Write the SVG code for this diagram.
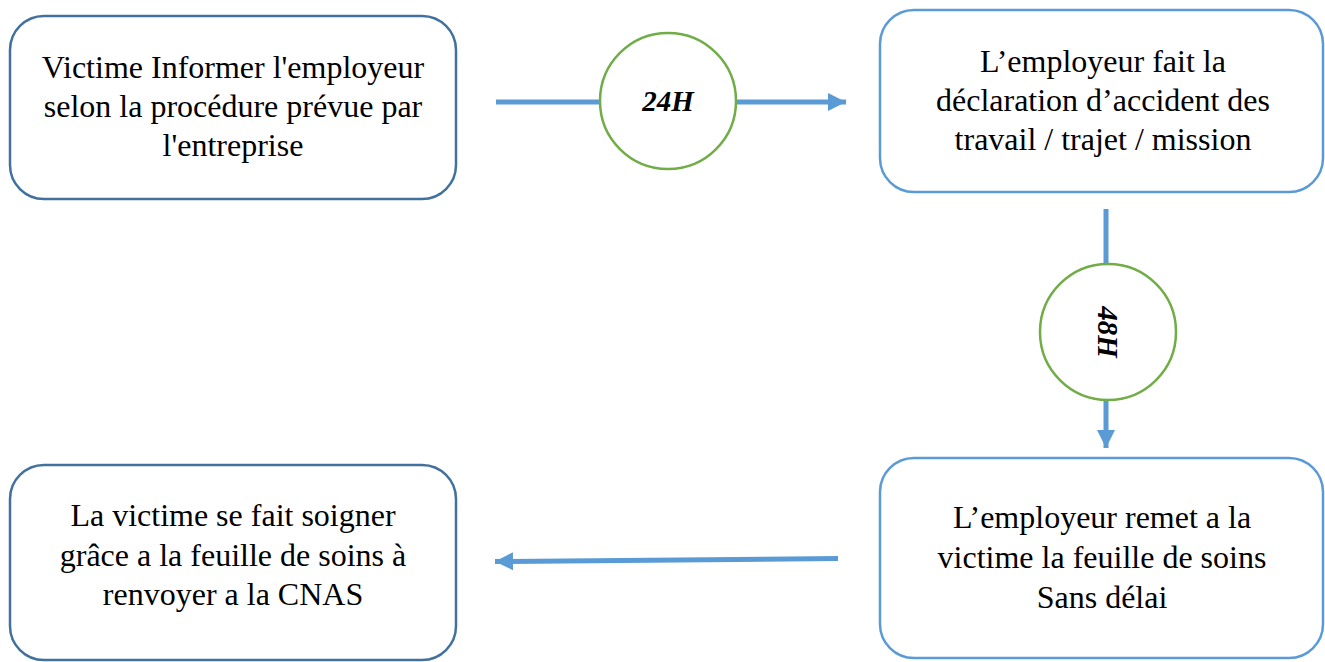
<svg xmlns="http://www.w3.org/2000/svg" width="1325" height="662" viewBox="0 0 1325 662">
  <style>
    .box { fill: #ffffff; stroke-width: 2.5; }
    .dark { stroke: #41719C; }
    .light { stroke: #5B9BD5; }
    .txt { font-family: "Liberation Serif", "Times New Roman", serif; font-size: 32px; fill: #000000; text-anchor: middle; }
    .conn { stroke: #5B9BD5; stroke-width: 5; fill: none; }
    .timer { fill: #ffffff; stroke: #70AD47; stroke-width: 2.5; }
    .ttxt { font-family: "Liberation Serif", "Times New Roman", serif; font-size: 29px; font-weight: bold; font-style: italic; fill: #000000; text-anchor: middle; }
  </style>
  <defs>
    <marker id="arrow" viewBox="0 0 10 10" refX="10" refY="5" markerWidth="3.6" markerHeight="3.6" orient="auto" markerUnits="strokeWidth">
      <path d="M0,0 L10,5 L0,10 Z" fill="#5B9BD5"/>
    </marker>
  </defs>
  <rect width="1325" height="662" fill="#ffffff"/>

  <g id="connectors">
    <line class="conn" x1="496" y1="102" x2="600" y2="102"/>
    <line class="conn" x1="736" y1="102" x2="846" y2="102" marker-end="url(#arrow)"/>
    <line class="conn" x1="1106" y1="209" x2="1106" y2="264"/>
    <line class="conn" x1="1106" y1="400" x2="1106" y2="448" marker-end="url(#arrow)"/>
    <line class="conn" x1="838" y1="558.5" x2="495" y2="561.5" marker-end="url(#arrow)"/>
  </g>

  <g id="node-victime-informer">
    <rect class="box dark" x="10" y="16" width="446" height="183" rx="34" ry="34"/>
    <text class="txt" x="233" y="78">Victime Informer l'employeur</text>
    <text class="txt" x="233" y="117">selon la procédure prévue par</text>
    <text class="txt" x="233" y="156">l'entreprise</text>
  </g>

  <g id="node-timer-24h">
    <circle class="timer" cx="668" cy="101" r="68"/>
    <text class="ttxt" x="668" y="111">24H</text>
  </g>

  <g id="node-declaration">
    <rect class="box light" x="880" y="10" width="443" height="182" rx="34" ry="34"/>
    <text class="txt" x="1103" y="72">L’employeur fait la</text>
    <text class="txt" x="1103" y="111">déclaration d’accident des</text>
    <text class="txt" x="1103" y="150">travail / trajet / mission</text>
  </g>

  <g id="node-timer-48h">
    <circle class="timer" cx="1108" cy="332" r="68"/>
    <text class="ttxt" transform="translate(1108 332) rotate(90)" x="0" y="10">48H</text>
  </g>

  <g id="node-remet">
    <rect class="box light" x="880" y="458" width="443" height="200" rx="34" ry="34"/>
    <text class="txt" x="1102" y="528">L’employeur remet a la</text>
    <text class="txt" x="1102" y="568">victime la feuille de soins</text>
    <text class="txt" x="1102" y="608">Sans délai</text>
  </g>

  <g id="node-soigner">
    <rect class="box dark" x="10" y="465" width="446" height="195" rx="34" ry="34"/>
    <text class="txt" x="233" y="526">La victime se fait soigner</text>
    <text class="txt" x="233" y="566">grâce a la feuille de soins à</text>
    <text class="txt" x="233" y="605">renvoyer a la CNAS</text>
  </g>
</svg>
